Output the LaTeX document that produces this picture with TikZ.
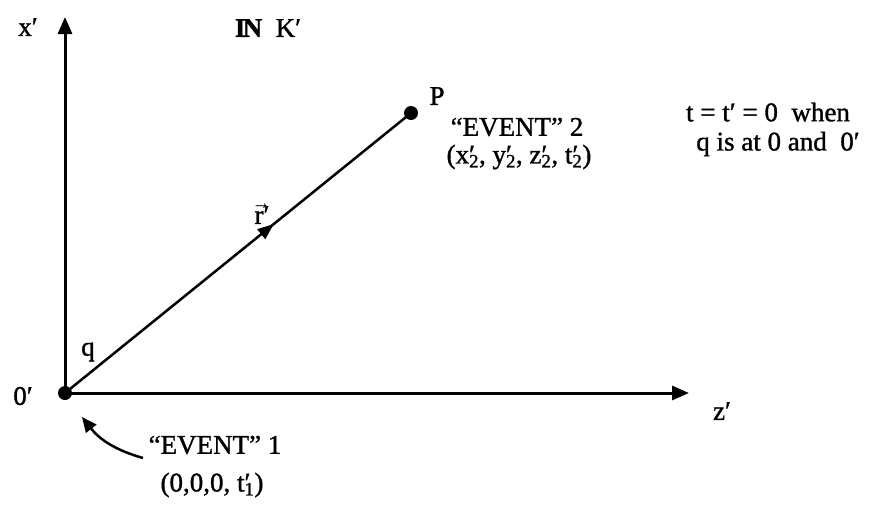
\documentclass[tikz,border=0pt]{standalone}
\usepackage{fontspec}
\setmainfont[FakeBold=1.2]{Liberation Serif}
\usetikzlibrary{arrows.meta}
\newcommand\pz[1]{\rlap{′}\textsubscript{#1}}
\begin{document}
\begin{tikzpicture}[x=1pt,y=-1pt,
  lbl/.style={inner sep=0pt,font=\fontsize{27}{30}\selectfont},
  axis/.style={line width=3pt,-{Triangle[length=17pt,width=14pt]}},
  dotty/.style={circle,fill=black,inner sep=0pt,minimum size=14pt}]
\useasboundingbox (0,0) rectangle (883,504);
\node[dotty] (O) at (65,393) {};
\node[dotty] (P) at (411,113) {};
\coordinate (xt) at (65,17);
\coordinate (zt) at (689,393);
\draw[axis] (O.center) -- (xt);
\draw[axis] (O.center) -- (zt);
\draw[line width=2.5pt] (O.center) -- (P.center)
  node[pos=0.585,sloped,inner sep=0pt] (mid) {\tikz\fill (0,0)--(-16pt,6.5pt)--(-16pt,-6.5pt)--cycle;};
\node[lbl] (xl) at (28,27) {x′};
\node[lbl] (ink) at (268,28) {{\bfseries I\kern-0.1em N}~~K′};
\node[lbl] (pl) at (437,96) {P};
\node[lbl] (e2) at (517,127) {“EVENT” 2};
\node[lbl] (c2) at (519,157) {(x\pz{2}, y\pz{2}, z\pz{2}, t\pz{2})};
\node[lbl] (t1) at (768,112) {t = t′ = 0 \ when};
\node[lbl] (t2) at (778,144) {q is at 0 and \ 0′};
\node[lbl] (rl) at (262,214) {$\vec{\mbox{r}}$′};
\node[lbl] (ql) at (88,352) {q};
\node[lbl] (ol) at (23,396) {0′};
\node[lbl] (zl) at (722,411) {z′};
\node[lbl] (e1) at (215,445) {“EVENT” 1};
\node[lbl] (c1) at (212,485) {(0,0,0, t\pz{1})};
\coordinate (as) at (143,458);
\coordinate (ae) at (82,417);
\draw[line width=2.5pt,-{Triangle[length=15pt,width=13pt]}] (as) to[bend left=18] (ae);
\end{tikzpicture}
\end{document}
